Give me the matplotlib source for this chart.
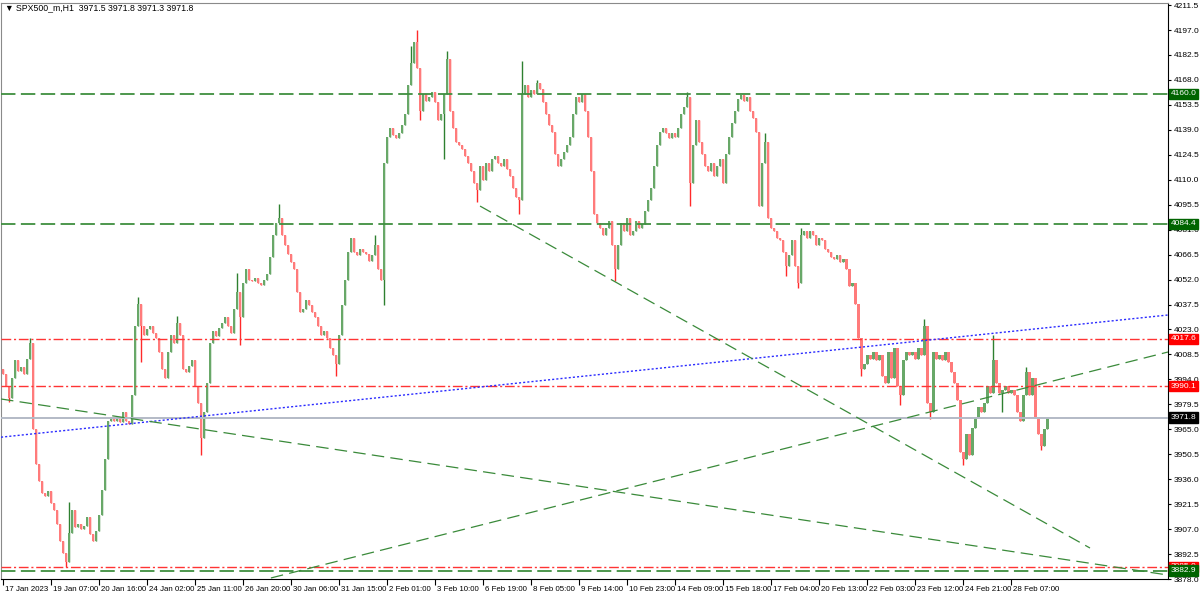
import matplotlib.pyplot as plt
from matplotlib.transforms import blended_transform_factory, ScaledTranslation

plt.rcParams['font.family'] = ['Liberation Sans', 'DejaVu Sans']

# chart header
title = "\u25bc SPX500_m,H1  3971.5 3971.8 3971.3 3971.8"

# closes, one candle per ~2 hours
closes = [
    3997, 3990, 3983, 3995, 4005, 3999, 4001, 3997, 4006, 4015,
    3965, 3945, 3935, 3928, 3926, 3929, 3922, 3918, 3910, 3900,
    3893, 3888, 3905, 3918, 3908, 3910, 3907, 3909, 3914, 3904,
    3900, 3906, 3915, 3930, 3948, 3970, 3972, 3970, 3972, 3969,
    3975, 3970, 3968, 3985, 4025, 4038, 4025, 4020, 4023, 4025,
    4021, 4018, 4010, 4000, 3995, 4010, 4020, 4015, 4027, 4020,
    4000, 3998, 4002, 4005, 3990, 3980, 3960, 3975, 3992, 4015,
    4022, 4019, 4024, 4027, 4030, 4025, 4021, 4035, 4045, 4030,
    4050, 4058, 4052, 4051, 4053, 4050, 4049, 4052, 4055, 4065,
    4078, 4085, 4088, 4078, 4072, 4067, 4062, 4058, 4045, 4033,
    4035, 4040, 4037, 4033, 4030, 4025, 4020, 4022, 4018, 4012,
    4008, 4003, 4020, 4037, 4052, 4068, 4076, 4068, 4066, 4070,
    4068, 4067, 4063, 4066, 4072, 4058, 4052, 4120, 4135, 4140,
    4136, 4134, 4137, 4142, 4148, 4165, 4178, 4190, 4175, 4150,
    4160, 4156, 4158, 4161, 4155, 4145, 4148, 4160, 4180, 4150,
    4140, 4132, 4130, 4128, 4124, 4120, 4115, 4108, 4104, 4118,
    4110, 4120, 4115, 4122, 4124, 4120, 4118, 4122, 4116, 4112,
    4105, 4100, 4098, 4160, 4165, 4158, 4162, 4160, 4166, 4163,
    4155, 4148, 4142, 4138, 4125, 4118, 4122, 4126, 4130, 4135,
    4148, 4158, 4155, 4160, 4150, 4135, 4115, 4090, 4085, 4082,
    4078, 4082, 4086, 4072, 4058, 4072, 4085, 4080, 4088, 4078,
    4080, 4086, 4082, 4084, 4092, 4098, 4105, 4118, 4130, 4138,
    4140, 4137, 4134, 4137, 4135, 4140, 4148, 4152, 4158, 4108,
    4130, 4145, 4132, 4125, 4118, 4115, 4120, 4112, 4118, 4122,
    4108, 4125, 4135, 4143, 4150, 4157, 4159, 4156, 4158, 4150,
    4146, 4138, 4095, 4120, 4132, 4088, 4082, 4080, 4076, 4075,
    4068, 4060, 4066, 4075, 4060, 4050, 4078, 4080, 4076, 4080,
    4078, 4072, 4076, 4075, 4070, 4068, 4065, 4064, 4066, 4062,
    4064, 4058, 4048, 4050, 4038, 4018, 4000, 4003, 4008, 4006,
    4010, 4005, 4008, 3996, 3992, 4010, 3995, 4012, 3990, 3985,
    4005, 4010, 4008, 4010, 4006, 4012, 4008, 4025, 3980, 3975,
    4010, 4006, 4008, 4005, 4010, 4004, 3998, 3992, 3982, 3952,
    3948, 3962, 3950, 3966, 3972, 3978, 3975, 3980, 3990, 3986,
    4005, 3992, 3986, 3988, 3990, 3986, 3988, 3985, 3975, 3970,
    3985, 3998, 3985, 3995, 3972, 3962, 3955, 3965, 3971.8,
]
first_open = 4000.0
# wicks that stick out beyond the bodies
wick_highs = {9: 4018, 22: 3923, 45: 4042, 58: 4031, 78: 4056, 92: 4096,
              124: 4078, 136: 4188, 138: 4197, 148: 4185, 173: 4179,
              178: 4168, 228: 4161, 254: 4137, 266: 4082, 307: 4029,
              330: 4020, 341: 4001}
wick_lows = {2: 3981, 21: 3885, 46: 4004, 66: 3950, 79: 4014, 111: 3996,
             127: 4037, 139: 4145, 147: 4122, 158: 4097, 172: 4090,
             204: 4051, 229: 4095, 261: 4054, 265: 4047, 286: 3996,
             299: 3979, 309: 3971, 320: 3944, 333: 3975, 346: 3953}

time_labels = ["17 Jan 2023", "19 Jan 07:00", "20 Jan 16:00", "24 Jan 02:00",
               "25 Jan 11:00", "26 Jan 20:00", "30 Jan 06:00", "31 Jan 15:00",
               "2 Feb 01:00", "3 Feb 10:00", "6 Feb 19:00", "8 Feb 05:00",
               "9 Feb 14:00", "10 Feb 23:00", "14 Feb 09:00", "15 Feb 18:00",
               "17 Feb 04:00", "20 Feb 13:00", "22 Feb 03:00", "23 Feb 12:00",
               "24 Feb 21:00", "28 Feb 07:00"]
bars_per_label = 16

price_ticks = [4211.5, 4197.0, 4182.5, 4168.0, 4153.5, 4139.0, 4124.5, 4110.0,
               4095.5, 4081.0, 4066.5, 4052.0, 4037.5, 4023.0, 4008.5, 3994.0,
               3979.5, 3965.0, 3950.5, 3936.0, 3921.5, 3907.0, 3892.5, 3878.0]

green_levels = [4160.0, 4084.4, 3882.9]
red_levels = [4017.6, 3990.1, 3885.0]
bid_price = 3971.8

# trend lines: (bar positions, prices)
blue_trend = ([-0.67, 388.3], [3960.4, 4031.4])
green_trends = [([-0.67, 388.3], [3982.6, 3880.3]),
                ([89.3, 388.3], [3878.6, 4009.9]),
                ([159.0, 362.3], [4094.7, 3896.0])]

price_boxes = [(4160.0, '#006400'), (4084.4, '#006400'), (4017.6, '#ff0000'),
               (3990.1, '#ff0000'), (3971.8, '#000000'), (3885.0, '#ff0000'),
               (3882.9, '#006400')]

opens = [first_open] + closes[:-1]
highs = [wick_highs.get(i, max(o, c)) for i, (o, c) in enumerate(zip(opens, closes))]
lows = [wick_lows.get(i, min(o, c)) for i, (o, c) in enumerate(zip(opens, closes))]
idx = list(range(len(closes)))

fig = plt.figure(figsize=(12, 5.97), dpi=100)
ax = fig.add_axes([1 / 1200, 18 / 597, 1167 / 1200, 576 / 597])
ax.set_xlim(-0.67, 388.3)
ax.set_ylim(3878.0, 4212.7)

# candles
up = [c >= o for o, c in zip(opens, closes)]
wick_col = ['#2e8030' if u else '#ff2a2a' for u in up]
body_col = ['#68a868' if u else '#ff7b7b' for u in up]
ax.vlines(idx, lows, highs, colors=wick_col, lw=1.0, zorder=2)
bottoms = [min(o, c) for o, c in zip(opens, closes)]
heights = [max(abs(c - o), 0.8) for o, c in zip(opens, closes)]
ax.bar(idx, heights, bottom=bottoms, width=0.95, color=body_col, linewidth=0, zorder=2)

# horizontal levels
for p in green_levels:
    ax.axhline(p, color='#3f8f3f', lw=1.3, ls=(0, (8, 3)), zorder=3)
for p in red_levels:
    ax.axhline(p, color='#ff3434', lw=1.0, ls=(0, (7, 2, 1.5, 2)), zorder=3)
ax.axhline(bid_price, color='#b3bac6', lw=1.4, zorder=3)

# trend lines
ax.plot(*blue_trend, color='#2a2aff', lw=1.0, ls=(0, (1.5, 1.5)), zorder=3)
for xs, ys in green_trends:
    ax.plot(xs, ys, color='#3a8a3a', lw=0.9, ls=(0, (10, 5)), zorder=3)

# axes styling
for side in ['left', 'top']:
    ax.spines[side].set_color('#8a8a8a')
for side in ['right', 'bottom']:
    ax.spines[side].set_color('black')
ax.yaxis.tick_right()
ax.set_yticks(price_ticks)
ax.set_yticklabels([f"{p:.1f}" for p in price_ticks])
ax.tick_params(axis='y', length=2.5, pad=1.5, labelsize=6.0, direction='out')

ax.set_xticks([i * bars_per_label for i in range(len(time_labels))])
ax.set_xticklabels(time_labels)
ax.tick_params(axis='x', length=4, pad=1, labelsize=5.7, direction='out')
shift = ScaledTranslation(1.5 / 100, 0, fig.dpi_scale_trans)
for lbl in ax.get_xticklabels():
    lbl.set_ha('left')
    lbl.set_transform(lbl.get_transform() + shift)

# price labels on the right
trans = blended_transform_factory(ax.transAxes, ax.transData)
for p, fc in price_boxes:
    ax.text(1.002, p, f"{p:.1f}", transform=trans, ha='left', va='center',
            fontsize=6.0, color='white', zorder=5,
            bbox=dict(boxstyle='square,pad=0.2', fc=fc, ec=fc))

fig.text(5 / 1200, 1 - 8 / 597, title, fontsize=6.3, va='center', ha='left')

fig.savefig('out.png', dpi=100)
